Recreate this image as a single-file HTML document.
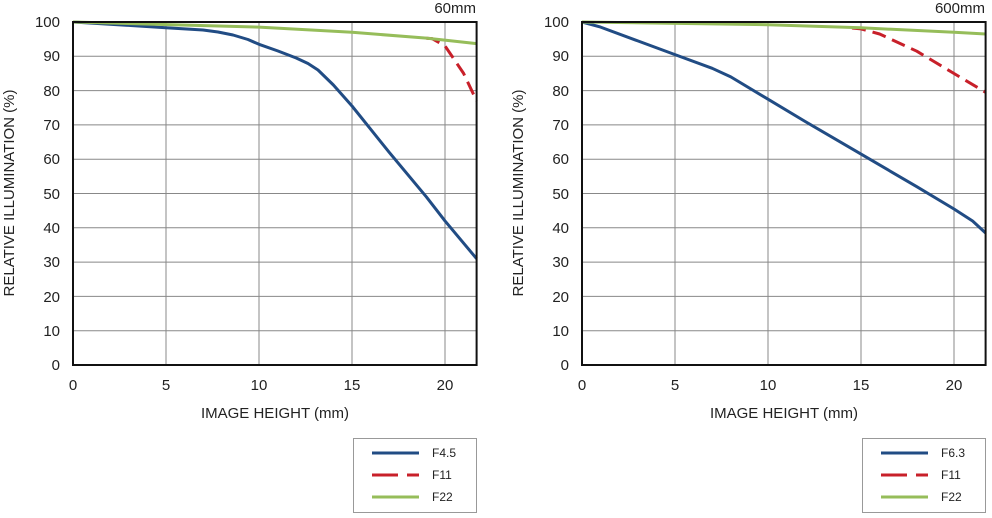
<!DOCTYPE html>
<html><head><meta charset="utf-8"><style>body{margin:0;background:#fff}</style></head><body>
<svg width="992" height="513" xmlns="http://www.w3.org/2000/svg" font-family="Liberation Sans, sans-serif" font-size="15" fill="#222">
<defs>
<g id="grid">
<g stroke="#888" stroke-width="1">
<line x1="0" y1="56.3" x2="404" y2="56.3"/><line x1="0" y1="90.6" x2="404" y2="90.6"/><line x1="0" y1="124.9" x2="404" y2="124.9"/><line x1="0" y1="159.2" x2="404" y2="159.2"/><line x1="0" y1="193.5" x2="404" y2="193.5"/><line x1="0" y1="227.8" x2="404" y2="227.8"/><line x1="0" y1="262.1" x2="404" y2="262.1"/><line x1="0" y1="296.4" x2="404" y2="296.4"/><line x1="0" y1="330.7" x2="404" y2="330.7"/>
<line x1="93" y1="22" x2="93" y2="365"/><line x1="186" y1="22" x2="186" y2="365"/><line x1="279" y1="22" x2="279" y2="365"/><line x1="372" y1="22" x2="372" y2="365"/>
</g>
<g text-anchor="end">
<text x="-13" y="27">100</text><text x="-13" y="61">90</text><text x="-13" y="96">80</text><text x="-13" y="130">70</text><text x="-13" y="164">60</text><text x="-13" y="199">50</text><text x="-13" y="233">40</text><text x="-13" y="267">30</text><text x="-13" y="302">20</text><text x="-13" y="336">10</text><text x="-13" y="370">0</text>
</g>
<g text-anchor="middle">
<text x="0" y="390">0</text><text x="93" y="390">5</text><text x="186" y="390">10</text><text x="279" y="390">15</text><text x="372" y="390">20</text>
<text x="202" y="418">IMAGE HEIGHT (mm)</text>
<text transform="translate(-59,193) rotate(-90)">RELATIVE ILLUMINATION (%)</text>
</g>
</g>
</defs>
<g transform="translate(73,0)">
<use href="#grid"/>
<g fill="none" stroke-width="3" stroke-linejoin="round">
<polyline stroke="#214c84" points="0,22 55.8,25.4 93,27.8 130,30 145,32 160,35 175,39.5 186,44.3 205,51 223.2,58 235,63.5 245,70 260.4,85 279,106 316.2,152.3 353.4,196.9 372,220.9 403.6,258.7"/>
<polyline stroke="#c8202a" stroke-dasharray="14,7" points="353.4,38.3 359,38.6 372,45.9 390.6,73.4 403.6,100.9"/>
<polyline stroke="#96bd5a" points="0,22 186,27.1 279,32.3 353.4,38.1 403.6,43.6"/>
</g>
<rect x="0" y="22" width="403.6" height="343" fill="none" stroke="#111" stroke-width="2"/>
<text x="403" y="13" text-anchor="end">60mm</text>
</g>
<g transform="translate(582,0)">
<use href="#grid"/>
<g fill="none" stroke-width="3" stroke-linejoin="round">
<polyline stroke="#214c84" points="0,22 18.6,27.1 55.8,40.9 93,54.6 130.2,68.3 148.8,76.9 186,99.2 223.2,121.5 279,154.1 334.8,186.7 372,209 390.6,221 403.6,233"/>
<polyline stroke="#c8202a" stroke-dasharray="14,7" points="270,28 279,28.9 297.6,34 334.8,51.2 372,73.5 403.6,92.3"/>
<polyline stroke="#96bd5a" points="0,22 186,24.7 279,27.8 372,32.3 403.6,34"/>
</g>
<rect x="0" y="22" width="403.6" height="343" fill="none" stroke="#111" stroke-width="2"/>
<text x="403" y="13" text-anchor="end">600mm</text>
</g>
<g font-size="12">
<rect x="353.5" y="438.5" width="123" height="74" fill="#fff" stroke="#999"/>
<line x1="372" y1="453" x2="419" y2="453" stroke="#214c84" stroke-width="3"/><text x="432" y="457">F4.5</text>
<line x1="372" y1="475" x2="419" y2="475" stroke="#c8202a" stroke-width="3" stroke-dasharray="26,9"/><text x="432" y="479">F11</text>
<line x1="372" y1="497" x2="419" y2="497" stroke="#96bd5a" stroke-width="3"/><text x="432" y="501">F22</text>
<rect x="862.5" y="438.5" width="123" height="74" fill="#fff" stroke="#999"/>
<line x1="881" y1="453" x2="928" y2="453" stroke="#214c84" stroke-width="3"/><text x="941" y="457">F6.3</text>
<line x1="881" y1="475" x2="928" y2="475" stroke="#c8202a" stroke-width="3" stroke-dasharray="26,9"/><text x="941" y="479">F11</text>
<line x1="881" y1="497" x2="928" y2="497" stroke="#96bd5a" stroke-width="3"/><text x="941" y="501">F22</text>
</g>
</svg>
</body></html>
